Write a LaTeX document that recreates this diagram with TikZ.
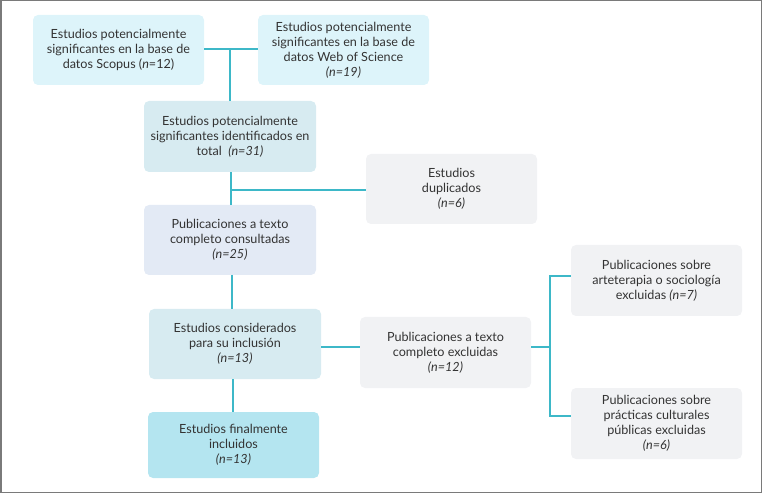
\documentclass[tikz,border=0pt]{standalone}
\usepackage{fontspec}
\setmainfont{Lato}
\definecolor{cyanA}{HTML}{DDF4FA}
\definecolor{tealB}{HTML}{D7EBF1}
\definecolor{lavC}{HTML}{E3EAF5}
\definecolor{grayD}{HTML}{F1F2F4}
\definecolor{cyanE}{HTML}{B4E5F0}
\definecolor{linec}{HTML}{3DB8C8}
\definecolor{txt}{HTML}{333333}
\definecolor{frame}{HTML}{7A7A7A}
\begin{document}
\begin{tikzpicture}[x=1pt,y=-1pt,
  box/.style={rounded corners=5pt, minimum width=171pt, minimum height=70pt,
    align=center, text=txt, font=\fontsize{12.6}{15}\selectfont, inner sep=2pt},
  conn/.style={draw=linec, line width=1.6pt}]
\useasboundingbox (0,0) rectangle (763,494);
\draw[frame, line width=1.5pt] (0.75,0.75) rectangle (761.5,492.5);

\node[box, fill=cyanA] (scopus) at (118.5,50) {Estudios potencialmente\\significantes en la base de\\datos Scopus (\textit{n}=12)};
\node[box, fill=cyanA] (wos) at (343.5,50) {Estudios potencialmente\\significantes en la base de\\datos Web of Science\\\textit{(n=19)}};
\node[box, fill=tealB, minimum width=172pt, minimum height=71pt] (total) at (230,136.5) {Estudios potencialmente\\significantes identificados en\\total\ \ \textit{(n=31)}};
\node[box, fill=grayD] (dup) at (451.5,189) {Estudios\\duplicados\\\textit{(n=6)}};
\node[box, fill=lavC, minimum width=172pt] (cons) at (230,240) {Publicaciones a texto\\completo consultadas\\\textit{(n=25)}};
\node[box, fill=tealB, minimum width=172pt] (consid) at (235,344) {Estudios considerados\\para su inclusión\\\textit{(n=13)}};
\node[box, fill=grayD, minimum height=71pt] (excl) at (445.5,352.5) {Publicaciones a texto\\completo excluidas\\\textit{(n=12)}};
\node[box, fill=grayD, minimum height=71pt] (arte) at (656.5,280.5) {Publicaciones sobre\\arteterapia o sociología\\excluidas \textit{(n=7)}};
\node[box, fill=grayD, minimum height=71pt] (prac) at (656.5,423.5) {Publicaciones sobre\\prácticas culturales\\públicas excluidas\\\textit{(n=6)}};
\node[box, fill=cyanE, minimum height=66pt] (final) at (233.5,445) {Estudios finalmente\\incluidos\\\textit{(n=13)}};

\coordinate (j1) at (230,49);
\coordinate (j2) at (231,190);
\coordinate (j3) at (550,347);
\coordinate (j4) at (550,276);
\coordinate (j5) at (550,416);

\draw[conn] (scopus.east |- j1) -- (wos.west |- j1);
\draw[conn] (j1) -- (j1 |- total.north);
\draw[conn] (j2 |- total.south) -- (j2 |- cons.north);
\draw[conn] (j2) -- (dup.west |- j2);
\draw[conn] (232,275) -- (232,309);
\draw[conn] (233,379) -- (233,412);
\draw[conn] (consid.east |- j3) -- (excl.west |- j3);
\draw[conn] (excl.east |- j3) -- (j3);
\draw[conn] (arte.west |- j4) -- (j4) -- (j5) -- (prac.west |- j5);
\end{tikzpicture}
\end{document}
